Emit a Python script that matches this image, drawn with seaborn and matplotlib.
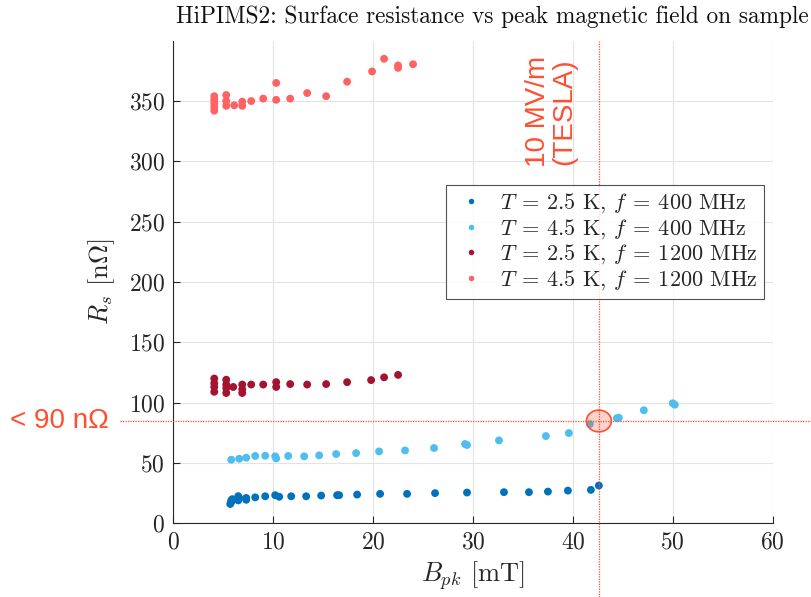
import numpy as np
import pandas as pd
import matplotlib
matplotlib.use("Agg")
import matplotlib.pyplot as plt
from matplotlib.patches import Ellipse
import seaborn as sns

# ---- data ----
labels = [r"$T\:=\:2.5$ K, $f\:=\:400$ MHz",
          r"$T\:=\:4.5$ K, $f\:=\:400$ MHz",
          r"$T\:=\:2.5$ K, $f\:=\:1200$ MHz",
          r"$T\:=\:4.5$ K, $f\:=\:1200$ MHz"]
colors = ["#0072BD", "#4DBEEE", "#A2142F", "#FF6262"]

b_25_400 = [5.7, 5.8, 5.8, 5.9, 6.5, 6.6, 6.5, 7.3, 7.3, 8.2, 9.2, 10.2, 10.6, 11.8, 13.3, 14.8,
            16.4, 16.6, 18.4, 20.7, 23.4, 26.2, 29.4, 33.1, 35.6, 37.5, 39.5, 41.8, 42.6]
r_25_400 = [16, 17.5, 19, 20, 19, 21, 22.5, 19.5, 21, 21.5, 22.4, 23.3, 22, 22.4, 22.4, 23,
            23.3, 23.3, 23.8, 24.4, 24.4, 25, 25.5, 25.8, 25.8, 26.3, 27.1, 27.7, 31.3]

b_45_400 = [5.8, 6.6, 7.3, 8.2, 9.2, 10.2, 10.3, 11.5, 13.1, 14.6, 16.3, 18.3, 20.6, 23.2, 26.1,
            29.2, 29.4, 32.6, 37.3, 39.6, 41.7, 44.4, 44.6, 47.1, 50.0, 50.2]
r_45_400 = [52.7, 53.5, 54.4, 55.8, 56, 55.5, 53.8, 55.8, 55.5, 56.3, 57.4, 58.2, 59.6, 60.4, 62.4,
            65.7, 64.9, 68.7, 72.3, 74.8, 82.2, 87.1, 87.5, 93.7, 99.5, 98.3]

b_25_1200 = [4.1, 4.1, 4.1, 4.1, 5.3, 5.3, 5.3, 5.3, 6.0, 6.9, 6.9, 6.9, 7.8, 9.0, 10.3, 10.3,
             11.7, 13.4, 15.3, 17.4, 19.8, 21.1, 22.5]
r_25_1200 = [109, 113, 116, 120, 108, 112, 115, 119, 113, 108, 111, 115, 115, 115, 113, 117,
             115.4, 115, 115.4, 117, 118.7, 121, 123]

b_45_1200 = [4.1, 4.1, 4.1, 4.1, 4.1, 5.3, 5.3, 5.3, 6.1, 6.9, 6.9, 7.8, 9.0, 10.3, 10.3, 11.7,
             13.4, 15.3, 17.4, 19.9, 21.1, 22.5, 22.5, 24.0]
r_45_1200 = [342, 345, 348, 351, 354, 346, 350, 355, 346.5, 346, 349.5, 350, 352, 351, 365, 352,
             356.6, 354, 366, 374.5, 385, 377.5, 379.5, 380.5]

xticks = [0, 10, 20, 30, 40, 50, 60]
yticks = [0, 50, 100, 150, 200, 250, 300, 350]

limit_field = 42.6     # mT, 10 MV/m (TESLA)
limit_rs = 84.8        # nOhm

series_b = [b_25_400, b_45_400, b_25_1200, b_45_1200]
series_r = [r_25_400, r_45_400, r_25_1200, r_45_1200]
df = pd.concat([pd.DataFrame({"B": b, "R": r, "series": lab})
                for b, r, lab in zip(series_b, series_r, labels)], ignore_index=True)

# ---- style ----
sns.set_theme(style="white")
plt.rcParams["font.family"] = ["cmr10", "DejaVu Serif"]
plt.rcParams["mathtext.fontset"] = "cm"
plt.rcParams["axes.unicode_minus"] = False
plt.rcParams["axes.formatter.use_mathtext"] = True

fig = plt.figure(figsize=(8.12, 5.97), dpi=100)
W, H = 812, 597
ax = fig.add_axes([173.3 / W, 1 - 523.3 / H, (772.7 - 173.3) / W, (523.3 - 40.7) / H])

sns.scatterplot(data=df, x="B", y="R", hue="series", palette=dict(zip(labels, colors)),
                s=32, linewidth=0, ax=ax, zorder=3)

ax.set_xlim(0, 60)
ax.set_ylim(0, 400)
ax.set_xticks(xticks)
ax.set_yticks(yticks)
ax.tick_params(direction="in", length=5, width=0.8, colors="#262626", labelsize=17,
               top=False, right=False, bottom=True, left=True, pad=6)
ax.grid(True, color="#e3e3e3", linewidth=0.8, zorder=0)
ax.set_axisbelow(True)
for s in ["top", "right"]:
    ax.spines[s].set_visible(False)
for s in ["left", "bottom"]:
    ax.spines[s].set_color("#262626")
    ax.spines[s].set_linewidth(0.8)

ax.set_xlabel(r"$B_{pk}$ [mT]", fontsize=19, color="#262626", labelpad=4)
ax.set_ylabel(r"$R_s$ [n$\Omega$]", fontsize=19, color="#262626", labelpad=8)
ax.set_title("HiPIMS2: Surface resistance vs peak magnetic field on sample",
             fontsize=16.8, x=0.533, pad=13, color="#111111")

leg = ax.legend(loc="upper right", bbox_to_anchor=(0.9855, 0.701), borderaxespad=0,
                fontsize=16, frameon=True, fancybox=False, edgecolor="#262626",
                handletextpad=0.5, labelspacing=0.08, borderpad=0.3, markerscale=0.7,
                handlelength=1.6)
leg.get_frame().set_linewidth(0.8)

# ---- annotations ----
red = "#FF4F2F"
ax.plot([-5.3, 63.9], [limit_rs, limit_rs], ls=(0, (1, 1)), color=red, lw=0.9,
        clip_on=False, zorder=4)
ax.plot([limit_field, limit_field], [-61, 400], ls=(0, (1, 1)), color=red, lw=0.9,
        clip_on=False, zorder=4)
ax.add_patch(Ellipse((limit_field, limit_rs), 2.5, 18, facecolor=(1, 0.3, 0.2, 0.25),
                     edgecolor=red, lw=1.2, zorder=5))
ax.text(-16.3, limit_rs, "< 90 nΩ", fontsize=20, color=red, ha="left", va="center",
        family=["Liberation Sans", "DejaVu Sans"], clip_on=False)
ax.text(37.8, 341, "10 MV/m\n(TESLA)", fontsize=20, color=red, rotation=90,
        ha="center", va="center", multialignment="center",
        family=["Liberation Sans", "DejaVu Sans"], linespacing=1.0)

fig.savefig("out.png", dpi=100)
